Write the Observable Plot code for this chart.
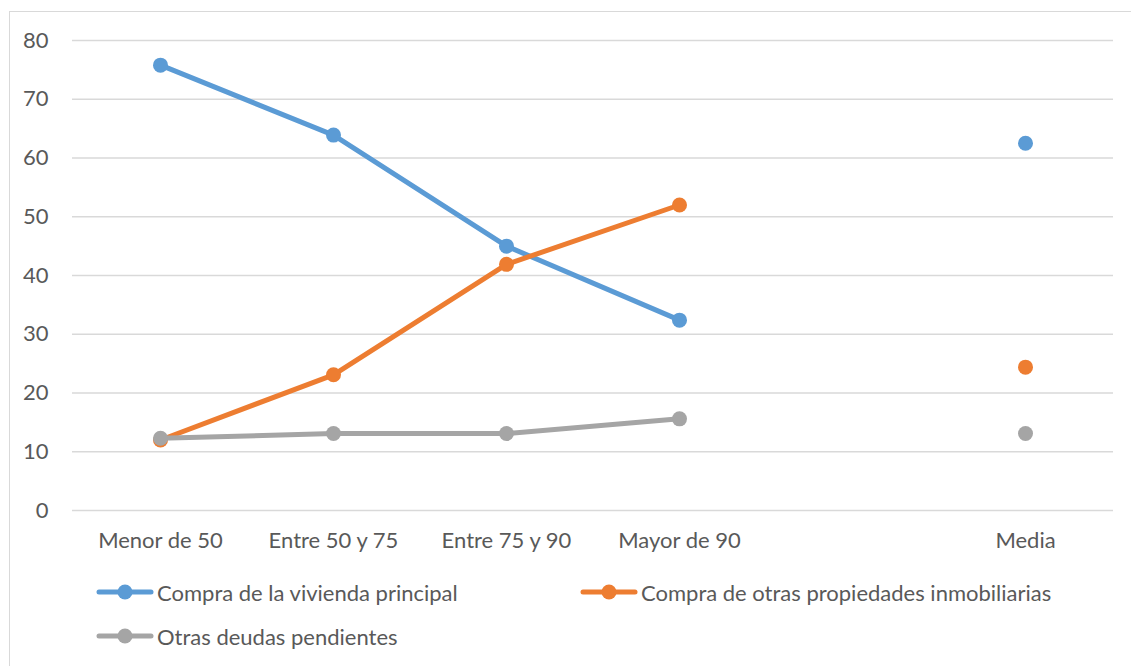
<!DOCTYPE html>
<html>
<head>
<meta charset="utf-8">
<script src="https://cdn.jsdelivr.net/npm/d3@7"></script>
<script src="https://cdn.jsdelivr.net/npm/@observablehq/plot@0.6"></script>
<style>
  html, body { margin: 0; padding: 0; background: #fff; overflow: hidden; }
  #wrap { position: relative; width: 1131px; height: 666px; overflow: hidden; font-family: Lato, "Open Sans", sans-serif; color: #595959; }
  #frame { position: absolute; left: 9px; top: 11px; width: 1140px; height: 700px; border: 1.5px solid #d9d9d9; box-sizing: border-box; }
  #chart { position: absolute; left: 0; top: 0; }
  .leg { position: absolute; display: flex; align-items: center; font-size: 22px; color: #595959; white-space: nowrap; }
  .leg svg { display: block; margin-right: 3px; }
</style>
</head>
<body>
<div id="wrap">
  <div id="frame"></div>
  <div id="chart"></div>
  <div id="legend"></div>
</div>
<script>
const categories = ["Menor de 50", "Entre 50 y 75", "Entre 75 y 90", "Mayor de 90", " ", "Media"];
const seriesNames = ["Compra de la vivienda principal", "Compra de otras propiedades inmobiliarias", "Otras deudas pendientes"];
const vivienda = [75.8, 63.9, 45.0, 32.4, null, 62.5];
const otrasPropiedades = [12.0, 23.1, 41.9, 52.0, null, 24.4];
const otrasDeudas = [12.3, 13.1, 13.1, 15.6, null, 13.1];
const yTicks = [0, 10, 20, 30, 40, 50, 60, 70, 80];
const colors = ["#5B9BD5", "#ED7D31", "#A5A5A5"];

const allSeries = [vivienda, otrasPropiedades, otrasDeudas];
const rows = [];
allSeries.forEach((vals, si) => {
  vals.forEach((v, i) => {
    if (v != null) rows.push({serie: seriesNames[si], cat: categories[i], value: v, idx: i});
  });
});
const lineRows = rows.filter(d => d.idx <= 3);

const marks = [
  Plot.ruleY(yTicks, {stroke: "#d9d9d9", strokeWidth: 1.5})
];
seriesNames.forEach((s, si) => {
  marks.push(Plot.line(lineRows.filter(d => d.serie === s), {x: "cat", y: "value", stroke: colors[si], strokeWidth: 5, strokeLinecap: "round", strokeLinejoin: "round"}));
  marks.push(Plot.dot(rows.filter(d => d.serie === s), {x: "cat", y: "value", r: 7.5, fill: colors[si], stroke: "none"}));
});
marks.push(Plot.axisX({tickSize: 0, tickPadding: 22, fontSize: 22, fill: "#595959", label: null}));
marks.push(Plot.axisY(yTicks, {tickSize: 0, tickPadding: 24, fontSize: 22, fill: "#595959", label: null}));

const plot = Plot.plot({
  width: 1131,
  height: 566,
  marginLeft: 72,
  marginRight: 18,
  marginTop: 40,
  marginBottom: 56,
  style: {fontFamily: "Lato, 'Open Sans', sans-serif", background: "transparent", color: "#595959", overflow: "visible"},
  x: {type: "point", domain: categories, padding: 0.5},
  y: {domain: [0, 80]},
  marks
});
document.getElementById("chart").appendChild(plot);

const legendPos = [{left: 96, top: 592}, {left: 580, top: 592}, {left: 96, top: 636}];
const legend = document.getElementById("legend");
seriesNames.forEach((s, si) => {
  const div = document.createElement("div");
  div.className = "leg";
  div.style.left = legendPos[si].left + "px";
  div.style.top = (legendPos[si].top - 15) + "px";
  div.style.height = "30px";
  div.innerHTML = `<svg width="58" height="20"><line x1="3" y1="10" x2="55" y2="10" stroke="${colors[si]}" stroke-width="5" stroke-linecap="round"/><circle cx="29" cy="10" r="7.5" fill="${colors[si]}"/></svg><span>${s}</span>`;
  legend.appendChild(div);
});
</script>
</body>
</html>
